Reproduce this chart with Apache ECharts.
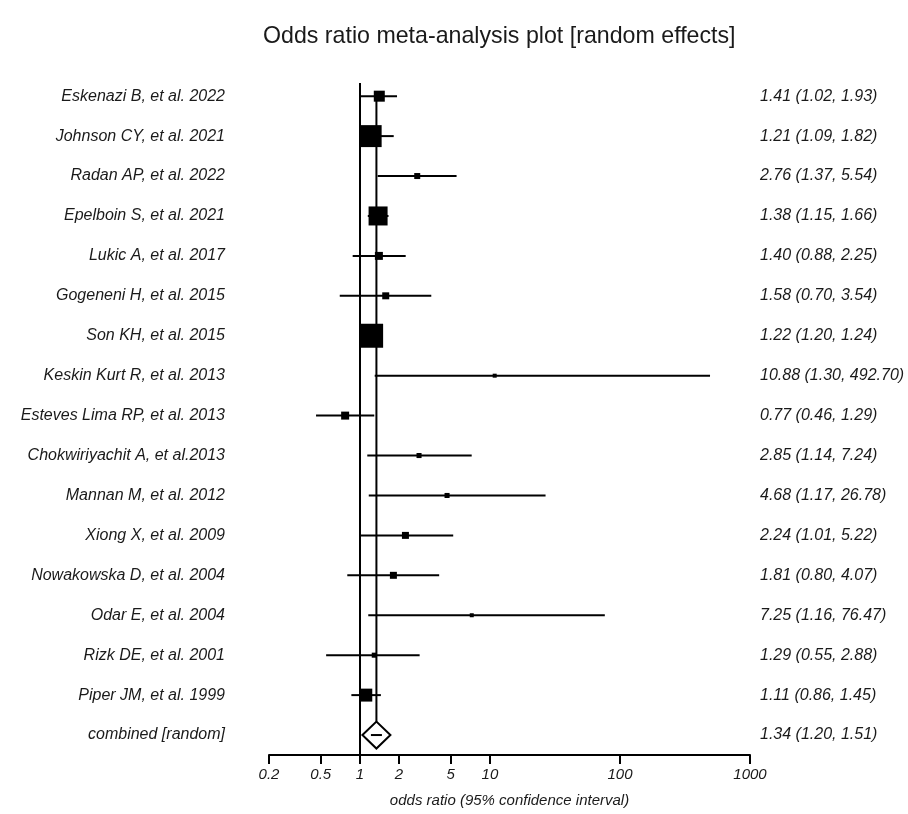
<!DOCTYPE html>
<html><head><meta charset="utf-8">
<script src="https://cdn.jsdelivr.net/npm/echarts@6/dist/echarts.min.js"></script>
<style>html,body{margin:0;padding:0;background:#fff}#c{width:908px;height:814px}</style>
</head><body><div id="c"></div>
<script>
// ---- data ----
const studies = [
  'Eskenazi B, et al. 2022',
  'Johnson CY, et al. 2021',
  'Radan AP, et al. 2022',
  'Epelboin S, et al. 2021',
  'Lukic A, et al. 2017',
  'Gogeneni H, et al. 2015',
  'Son KH, et al. 2015',
  'Keskin Kurt R, et al. 2013',
  'Esteves Lima RP, et al. 2013',
  'Chokwiriyachit A, et al.2013',
  'Mannan M, et al. 2012',
  'Xiong X, et al. 2009',
  'Nowakowska D, et al. 2004',
  'Odar E, et al. 2004',
  'Rizk DE, et al. 2001',
  'Piper JM, et al. 1999'
];
const oddsRatio = [1.41, 1.21, 2.76, 1.38, 1.40, 1.58, 1.22, 10.88, 0.77, 2.85, 4.68, 2.24, 1.81, 7.25, 1.29, 1.11];
const ciLower   = [1.02, 1.09, 1.37, 1.15, 0.88, 0.70, 1.20, 1.30, 0.46, 1.14, 1.17, 1.01, 0.80, 1.16, 0.55, 0.86];
const ciUpper   = [1.93, 1.82, 5.54, 1.66, 2.25, 3.54, 1.24, 492.70, 1.29, 7.24, 26.78, 5.22, 4.07, 76.47, 2.88, 1.45];
// estimated study weights (%)
const weights   = [5.7, 22.7, 1.7, 17.0, 3.0, 2.3, 27.1, 0.75, 3.0, 1.2, 1.2, 2.3, 2.3, 0.75, 1.2, 7.9];
const combinedLabel = 'combined [random]';
const combinedOR = 1.34, combinedLower = 1.20, combinedUpper = 1.51;
const xTickValues = [0.2, 0.5, 1, 2, 5, 10, 100, 1000];
const titleText = 'Odds ratio meta-analysis plot [random effects]';
const xAxisTitle = 'odds ratio (95% confidence interval)';

// ---- derived ----
const fmt = v => v.toFixed(2);
const rowLabels = studies.concat([combinedLabel]);
const rowValues = oddsRatio.map((v, i) => fmt(v) + ' (' + fmt(ciLower[i]) + ', ' + fmt(ciUpper[i]) + ')')
  .concat([fmt(combinedOR) + ' (' + fmt(combinedLower) + ', ' + fmt(combinedUpper) + ')']);
const rowIdx = rowLabels.map((_, i) => i);
const combRow = studies.length;
const maxW = Math.max.apply(null, weights);

const FONT = '"Liberation Sans", Arial, sans-serif';
const INK = '#000';
const TXT = '#1a1a1a';

const yBase = {
  type: 'value', inverse: true, min: -0.33, max: combRow + 0.5,
  axisLine: {show: false}, axisTick: {show: false}, splitLine: {show: false}
};

const chart = echarts.init(document.getElementById('c'), null, {renderer: 'canvas'});
chart.setOption({
  animation: false,
  backgroundColor: '#fff',
  title: {
    text: titleText, left: 258, top: 20,
    textStyle: {fontFamily: FONT, fontSize: 23.2, fontWeight: 'normal', color: TXT}
  },
  grid: {left: 269, right: 158, top: 83, bottom: 59, containLabel: false},
  xAxis: {
    type: 'log', logBase: 10, min: 0.2, max: 1000,
    axisLine: {show: true, onZero: false, lineStyle: {color: INK, width: 2}},
    axisTick: {show: true, inside: false, length: 9, lineStyle: {color: INK, width: 2}, customValues: xTickValues},
    axisLabel: {
      customValues: xTickValues, margin: 12, color: TXT,
      fontFamily: FONT, fontSize: 15, fontStyle: 'italic',
      formatter: v => String(v)
    },
    splitLine: {show: false},
    name: xAxisTitle, nameLocation: 'middle', nameGap: 38,
    nameTextStyle: {fontFamily: FONT, fontSize: 15, fontStyle: 'italic', color: TXT}
  },
  yAxis: [
    Object.assign({}, yBase, {
      position: 'left',
      axisLabel: {
        customValues: rowIdx, margin: 44, color: TXT,
        fontFamily: FONT, fontSize: 16, fontStyle: 'italic',
        formatter: v => rowLabels[Math.round(v)]
      }
    }),
    Object.assign({}, yBase, {
      position: 'right',
      axisLabel: {
        customValues: rowIdx, margin: 10, color: TXT,
        fontFamily: FONT, fontSize: 16, fontStyle: 'italic',
        formatter: v => rowValues[Math.round(v)]
      }
    })
  ],
  series: [
    {
      name: 'ci', type: 'custom', xAxisIndex: 0, yAxisIndex: 0,
      data: studies.map((s, i) => [ciLower[i], ciUpper[i], i]),
      encode: {x: [0, 1], y: 2},
      renderItem: (params, api) => {
        const a = api.coord([api.value(0), api.value(2)]);
        const b = api.coord([api.value(1), api.value(2)]);
        return {type: 'line', shape: {x1: a[0], y1: a[1], x2: b[0], y2: b[1]},
                style: {stroke: INK, lineWidth: 2}};
      },
      markLine: {
        silent: true, symbol: 'none', label: {show: false},
        lineStyle: {color: INK, width: 2, type: 'solid'},
        data: [{xAxis: 1}]
      }
    },
    {
      name: 'pooled line', type: 'custom',
      data: [[combinedOR, 0, combRow]],
      encode: {x: 0, y: [1, 2]},
      renderItem: (params, api) => {
        const a = api.coord([api.value(0), api.value(1)]);
        const b = api.coord([api.value(0), api.value(2)]);
        return {type: 'line', shape: {x1: a[0], y1: a[1] - 5, x2: b[0], y2: b[1] - 13.5},
                style: {stroke: INK, lineWidth: 2}};
      }
    },
    {
      name: 'studies', type: 'scatter', symbol: 'rect',
      data: studies.map((s, i) => [oddsRatio[i], i, weights[i]]),
      symbolSize: v => Math.max(4, 24 * Math.sqrt(v[2] / maxW)),
      itemStyle: {color: INK, opacity: 1},
      z: 5
    },
    {
      name: 'combined', type: 'custom',
      data: [[combinedOR, combRow, combinedLower, combinedUpper]],
      encode: {x: [0, 2, 3], y: 1},
      z: 6,
      renderItem: (params, api) => {
        const c = api.coord([api.value(0), api.value(1)]);
        const hw = 14, hh = 13.5;
        return {type: 'group', children: [
          {type: 'polygon', shape: {points: [[c[0] - hw, c[1]], [c[0], c[1] - hh], [c[0] + hw, c[1]], [c[0], c[1] + hh]]},
           style: {fill: '#fff', stroke: INK, lineWidth: 2}},
          {type: 'line', shape: {x1: c[0] - 5.5, y1: c[1], x2: c[0] + 5.5, y2: c[1]},
           style: {stroke: INK, lineWidth: 2}}
        ]};
      }
    }
  ]
});
</script>
</body></html>
